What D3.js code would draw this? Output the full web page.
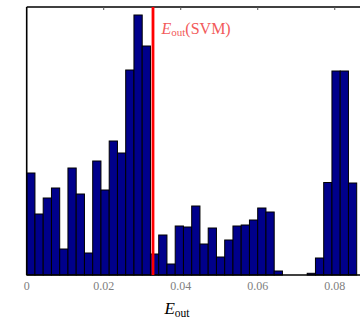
<!DOCTYPE html>
<html>
<head>
<meta charset="utf-8">
<script src="https://cdn.jsdelivr.net/npm/d3@7"></script>
<style>
  body { margin: 0; background: #fff; }
  text { font-family: "Liberation Serif", "DejaVu Serif", serif; }
</style>
</head>
<body>
<svg id="chart" width="360" height="323"></svg>
<script>
// histogram of E_out, 40 equal bins starting at 0
const binWidth = 0.0021425;
const counts = [102, 61, 77, 87, 26, 107, 81, 22, 114, 85,
                134, 122, 205, 260, 229, 21, 40, 11, 49, 48,
                69, 31, 47, 18, 35, 49, 50, 55, 67, 63,
                4, 0, 0, 0, 1.7, 17, 92.5, 204, 204, 92];
const xTicks = [0, 0.02, 0.04, 0.06, 0.08];
const xTickLabels = ['0', '0.02', '0.04', '0.06', '0.08'];
const svmEout = 0.0328;

(function () {
    const svg = d3.select('#chart');
    const plotLeft = 26.7, plotTop = 7, plotBottom = 275;
    const xMax = binWidth * counts.length;

    const x = d3.scaleLinear().domain([0, xMax]).range([plotLeft, plotLeft + 330]);
    const y = d3.scaleLinear().domain([0, 268]).range([plotBottom, plotTop]);

    const bins = counts.map((c, i) => ({x0: i * binWidth, x1: (i + 1) * binWidth, count: c}));

    svg.append('g')
        .selectAll('rect')
        .data(bins)
        .enter()
        .append('rect')
        .attr('x', d => x(d.x0))
        .attr('y', d => y(d.count))
        .attr('width', d => x(d.x1) - x(d.x0))
        .attr('height', d => plotBottom - y(d.count))
        .attr('fill', '#00008b')
        .attr('stroke', '#000')
        .attr('stroke-width', 1);

    // spines
    svg.append('line').attr('x1', plotLeft).attr('x2', 360).attr('y1', plotTop).attr('y2', plotTop)
        .attr('stroke', '#000').attr('stroke-width', 1.6);
    svg.append('line').attr('x1', plotLeft).attr('x2', 360).attr('y1', plotBottom).attr('y2', plotBottom)
        .attr('stroke', '#000').attr('stroke-width', 1.4);
    svg.append('line').attr('x1', plotLeft).attr('x2', plotLeft).attr('y1', plotTop).attr('y2', plotBottom)
        .attr('stroke', '#000').attr('stroke-width', 1.6);

    // top ticks pointing inward
    svg.append('g')
        .selectAll('line')
        .data(xTicks.slice(1))
        .enter()
        .append('line')
        .attr('x1', d => x(d)).attr('x2', d => x(d))
        .attr('y1', plotTop).attr('y2', plotTop + 3)
        .attr('stroke', '#555').attr('stroke-width', 1);

    // svm line
    svg.append('line')
        .attr('x1', x(svmEout)).attr('x2', x(svmEout))
        .attr('y1', plotTop).attr('y2', plotBottom)
        .attr('stroke', '#ff0000').attr('stroke-width', 2.8);

    // tick labels
    svg.append('g')
        .selectAll('text')
        .data(xTicks)
        .enter()
        .append('text')
        .attr('x', d => x(d))
        .attr('y', 289.5)
        .attr('text-anchor', 'middle')
        .attr('font-size', 12)
        .attr('fill', '#808080')
        .text((d, i) => xTickLabels[i]);

    // x label
    const xl = svg.append('text')
        .attr('x', 177)
        .attr('y', 314)
        .attr('text-anchor', 'middle')
        .attr('font-size', 17)
        .attr('fill', '#000');
    xl.append('tspan').attr('font-style', 'italic').text('E');
    xl.append('tspan').attr('font-size', 11.5).attr('dy', 3).text('out');

    // annotation
    const ann = svg.append('text')
        .attr('x', 161.5)
        .attr('y', 33.5)
        .attr('font-size', 16)
        .attr('fill', '#f25a5a');
    ann.append('tspan').attr('font-style', 'italic').text('E');
    ann.append('tspan').attr('font-size', 11).attr('dy', 2.5).text('out');
    ann.append('tspan').attr('dy', -2.5).text('(SVM)');
})();
</script>
</body>
</html>
